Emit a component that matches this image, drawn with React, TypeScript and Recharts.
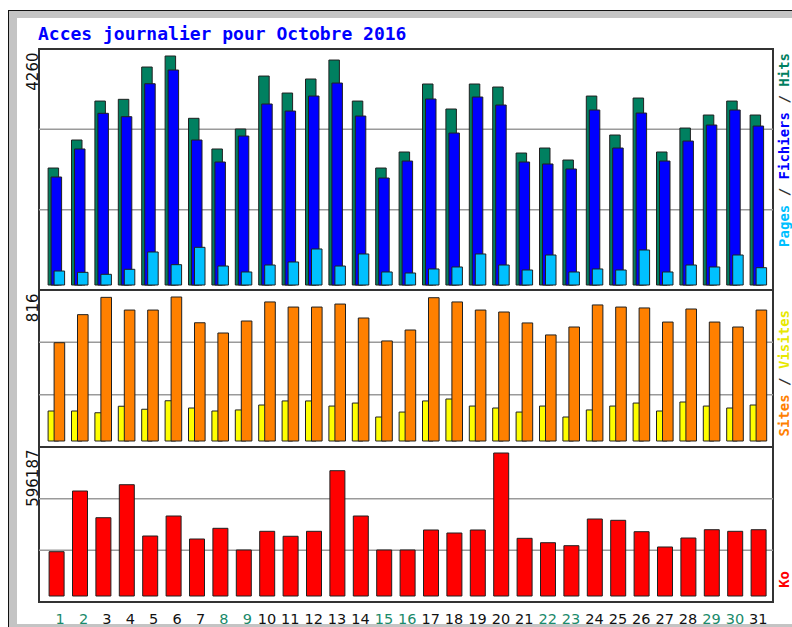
import React from 'react';
import { BarChart, Bar, XAxis, YAxis, CartesianGrid } from 'recharts';

const days = ['1','2','3','4','5','6','7','8','9','10','11','12','13','14','15','16','17','18','19','20','21','22','23','24','25','26','27','28','29','30','31'];
const weekendDays = ['1','2','8','9','15','16','22','23','29','30'];

const hits = [2176,2697,3422,3454,4055,4260,3101,2530,2902,3887,3571,3832,4185,3422,2176,2474,3739,3274,3739,3683,2455,2548,2325,3515,2790,3478,2474,2920,3162,3422,3162];
const files = [2009,2530,3194,3131,3744,3999,2697,2288,2771,3367,3236,3515,3757,3143,1990,2306,3460,2827,3497,3348,2288,2251,2158,3255,2548,3199,2306,2678,2976,3255,2957];
const pages = [260,236,199,292,614,378,701,353,242,372,428,670,353,577,242,223,298,335,577,372,279,558,242,298,279,651,242,372,335,558,322];

const sites = [557,716,814,742,742,816,670,612,680,788,759,759,776,697,567,629,812,788,742,731,669,601,646,771,759,754,674,748,674,646,742];
const visits = [170,170,160,197,180,228,187,170,176,204,227,227,198,215,136,164,227,238,198,187,164,198,136,176,198,215,170,221,198,187,204];

const kbytes = [184700,437700,326400,464000,250100,333500,237600,282200,191800,269700,249000,269700,522400,333500,191800,191800,275200,262600,275200,596187,240500,222200,209700,321000,315600,268100,204300,241800,276400,269700,276400];

const maxHits = 4260;
const maxSites = 816;
const maxKb = 596187;

const rows = days.map((d, i) => ({
  day: d,
  hits: hits[i],
  files: files[i],
  pages: pages[i],
  sites: sites[i],
  visits: visits[i],
  kb: kbytes[i],
}));

const W = 792;
const H = 627;
const PANEL_LEFT = 39;
const PANEL_RIGHT = 773;
const X_PAD = { left: 6.1, right: 2.5 };
const STROKE = '#202020';
const MONO = '"DejaVu Sans Mono", monospace';
const SANS = '"DejaVu Sans", sans-serif';

function domainFor(top: number, bottom: number, padTop: number, padBottom: number, max: number): [number, number] {
  const inner = bottom - top - padTop - padBottom;
  const per = max / inner;
  return [-padBottom * per, max + padTop * per];
}

const gridGen = (props: any) => {
  const o = props.offset;
  return [o.top + o.height / 3, o.top + (2 * o.height) / 3];
};

const MaxTick = (props: any) => {
  const { y, payload } = props;
  return (
    <text
      transform={`translate(38, ${y - 3.5}) rotate(-90)`}
      textAnchor="end"
      fontFamily={SANS}
      fontSize={15}
      fill="#111"
    >
      {payload.value}
    </text>
  );
};

const DayTick = (props: any) => {
  const { x, y, payload } = props;
  const v = String(payload.value);
  const weekend = weekendDays.includes(v);
  const dx = v.length === 1 ? 3.3 : -0.5;
  return (
    <text
      x={x + dx}
      y={y + 20}
      textAnchor="middle"
      fontFamily={SANS}
      fontSize={14.5}
      fill={weekend ? '#1a8a6a' : '#111'}
    >
      {v}
    </text>
  );
};

type PanelProps = {
  top: number;
  bottom: number;
  padTop: number;
  padBottom: number;
  max: number;
  children: React.ReactNode;
  showX?: boolean;
  barSize: number;
  barGap: number;
};

function Panel({ top, bottom, padTop, padBottom, max, children, showX, barSize, barGap }: PanelProps) {
  const xh = showX ? H - bottom : 0;
  return (
    <BarChart
      width={W}
      height={H}
      data={rows}
      barSize={barSize}
      barGap={barGap}
      margin={{ top, right: W - PANEL_RIGHT, left: PANEL_LEFT - 30, bottom: showX ? 0 : H - bottom }}
      style={{ position: 'absolute', left: 0, top: 0 }}
    >
      <CartesianGrid vertical={false} horizontalCoordinatesGenerator={gridGen} stroke="#9a9a9a" strokeWidth={1.5} />
      <XAxis
        dataKey="day"
        hide={!showX}
        height={xh}
        padding={X_PAD}
        axisLine={false}
        tickLine={false}
        tickSize={0}
        interval={0}
        tick={<DayTick />}
      />
      <YAxis
        width={30}
        domain={domainFor(top, bottom, padTop, padBottom, max)}
        ticks={[max]}
        axisLine={false}
        tickLine={false}
        tick={<MaxTick />}
        allowDataOverflow
      />
      {children}
    </BarChart>
  );
}

const sideLabel = { fontFamily: MONO, fontWeight: 'bold' as const, fontSize: 14 };

export default function App() {
  return (
    <div style={{ position: 'absolute', left: 0, top: 0, width: W, height: H, background: '#fff', overflow: 'hidden' }}>
      <svg width={W} height={H} style={{ position: 'absolute', left: 0, top: 0 }}>
        <rect x={8} y={10} width={W} height={H} fill="#c4c4c4" />
        <line x1={8.5} y1={10} x2={8.5} y2={H} stroke="#111" strokeWidth={1} />
        <line x1={8} y1={10.5} x2={W} y2={10.5} stroke="#111" strokeWidth={1} />
        <rect x={17} y={18} width={W} height={624 - 18} fill="#fff" />
        <text x={38} y={40} fontFamily={MONO} fontWeight="bold" fontSize={18} fill="#0000ff">
          Acces journalier pour Octobre 2016
        </text>
        <rect x={PANEL_LEFT} y={49} width={PANEL_RIGHT - PANEL_LEFT} height={290 - 49} fill="none" stroke="#333" strokeWidth={2} />
        <rect x={PANEL_LEFT} y={290} width={PANEL_RIGHT - PANEL_LEFT} height={447 - 290} fill="none" stroke="#333" strokeWidth={2} />
        <rect x={PANEL_LEFT} y={447} width={PANEL_RIGHT - PANEL_LEFT} height={602 - 447} fill="none" stroke="#333" strokeWidth={2} />
        <text transform="translate(789, 53) rotate(-90)" textAnchor="end" {...sideLabel}>
          <tspan fill="#00c0ff">Pages</tspan>
          <tspan fill="#333"> / </tspan>
          <tspan fill="#0000ff">Fichiers</tspan>
          <tspan fill="#333"> / </tspan>
          <tspan fill="#008060">Hits</tspan>
        </text>
        <text transform="translate(789, 310) rotate(-90)" textAnchor="end" {...sideLabel}>
          <tspan fill="#ff8000">Sites</tspan>
          <tspan fill="#333"> / </tspan>
          <tspan fill="#e8e800">Visites</tspan>
        </text>
        <text transform="translate(789, 571) rotate(-90)" textAnchor="end" {...sideLabel}>
          <tspan fill="#ff0000">Ko</tspan>
        </text>
      </svg>

      <Panel top={49} bottom={290} padTop={7} padBottom={5} max={maxHits} barSize={10.5} barGap={-7.5}>
        <Bar dataKey="hits" fill="#008060" stroke={STROKE} strokeWidth={1} isAnimationActive={false} />
        <Bar dataKey="files" fill="#0000ff" stroke={STROKE} strokeWidth={1} isAnimationActive={false} />
        <Bar dataKey="pages" fill="#00c0ff" stroke={STROKE} strokeWidth={1} isAnimationActive={false} />
      </Panel>

      <Panel top={290} bottom={447} padTop={7} padBottom={6} max={maxSites} barSize={10.6} barGap={-4.6}>
        <Bar dataKey="visits" fill="#ffff00" stroke={STROKE} strokeWidth={1} isAnimationActive={false} />
        <Bar dataKey="sites" fill="#ff8000" stroke={STROKE} strokeWidth={1} isAnimationActive={false} />
      </Panel>

      <Panel top={447} bottom={602} padTop={6} padBottom={6} max={maxKb} barSize={15} barGap={0} showX>
        <Bar dataKey="kb" fill="#ff0000" stroke={STROKE} strokeWidth={1} isAnimationActive={false} />
      </Panel>
    </div>
  );
}
